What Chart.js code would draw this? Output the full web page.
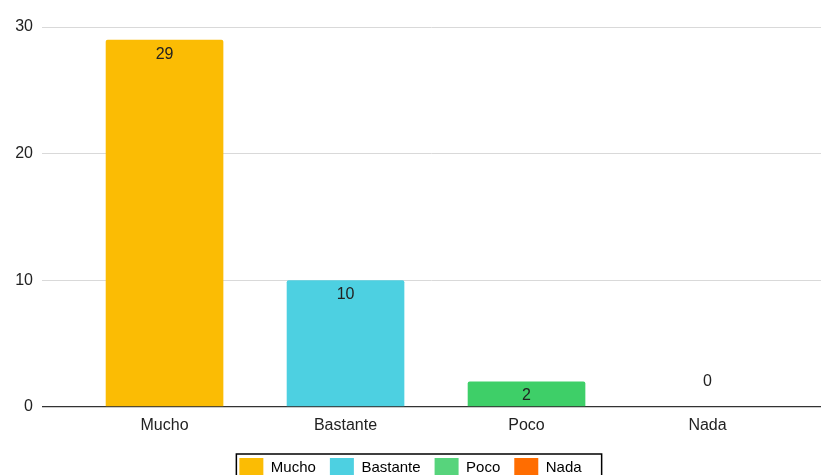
<!DOCTYPE html>
<html>
<head>
<meta charset="utf-8">
<script src="https://cdn.jsdelivr.net/npm/chart.js@4.4.0/dist/chart.umd.min.js"></script>
<style>
  html, body { margin: 0; padding: 0; background: #fff; overflow: hidden; }
  #wrap { width: 821px; height: 488px; }
</style>
</head>
<body>
<div id="wrap"><canvas id="c" width="821" height="488"></canvas></div>
<script>
const categories = ['Mucho', 'Bastante', 'Poco', 'Nada'];
const values = [29, 10, 2, 0];
const barColors = ['#fbbc04', '#4dd0e1', '#3ecf68', '#ff6d01'];
const legendColors = ['#fbbc04', '#4dd0e1', '#57d47c', '#ff6d01'];
const yTicks = [0, 10, 20, 30];

const FONT = '"Liberation Sans", Arial, Helvetica, sans-serif';

const datasets = categories.map((name, i) => ({
  label: name,
  data: [{ x: i, y: values[i] }],
  backgroundColor: barColors[i],
  borderRadius: { topLeft: 2, topRight: 2, bottomLeft: 0, bottomRight: 0 },
  borderSkipped: 'bottom',
  categoryPercentage: 1,
  barPercentage: 0.65,
  grouped: false
}));

const valueLabels = {
  id: 'valueLabels',
  afterDatasetsDraw(chart) {
    const ctx = chart.ctx;
    ctx.save();
    ctx.font = '16px ' + FONT;
    ctx.fillStyle = '#222';
    ctx.textAlign = 'center';
    ctx.textBaseline = 'middle';
    chart.data.datasets.forEach((ds, i) => {
      const meta = chart.getDatasetMeta(i);
      meta.data.forEach((bar, j) => {
        const v = ds.data[j].y;
        const y = v > 0 ? bar.y + 14.5 : bar.base - 25;
        ctx.fillText(String(v), bar.x, y);
      });
    });
    ctx.restore();
  }
};

const legendBorder = {
  id: 'legendBorder',
  afterDraw(chart) {
    const l = chart.legend;
    if (!l || !l.legendHitBoxes || !l.legendHitBoxes.length) return;
    const boxes = l.legendHitBoxes;
    const left = boxes[0].left - 3;
    const last = boxes[boxes.length - 1];
    const right = last.left + last.width + 20;
    const top = boxes[0].top - 4;
    const ctx = chart.ctx;
    ctx.save();
    ctx.strokeStyle = '#000';
    ctx.lineWidth = 1.5;
    ctx.strokeRect(left, top, right - left, 40);
    ctx.restore();
  }
};

new Chart(document.getElementById('c'), {
  type: 'bar',
  data: { datasets },
  plugins: [valueLabels, legendBorder],
  options: {
    responsive: false,
    animation: false,
    layout: { padding: { top: 27, left: 0, right: 0, bottom: 0 } },
    scales: {
      x: {
        type: 'linear',
        offset: false,
        min: -0.677,
        max: 3.627,
        grid: { display: false, drawTicks: false, offset: false },
        border: { display: false },
        afterBuildTicks(scale) {
          scale.ticks = categories.map((_, i) => ({ value: i }));
        },
        ticks: {
          autoSkip: false,
          maxRotation: 0,
          padding: 9,
          color: '#222',
          font: { family: FONT, size: 16 },
          callback: (v) => categories[v]
        }
      },
      y: {
        min: 0,
        max: 30,
        afterBuildTicks(scale) {
          scale.ticks = yTicks.map(v => ({ value: v }));
        },
        afterFit(scale) { scale.width = 42; },
        grid: {
          drawTicks: false,
          color: (c) => c.tick && c.tick.value === 0 ? '#333' : '#d9d9d9',
          lineWidth: (c) => c.tick && c.tick.value === 0 ? 1.3 : 1
        },
        border: { display: false },
        ticks: {
          padding: 9,
          color: '#222',
          font: { family: FONT, size: 16 }
        }
      }
    },
    plugins: {
      tooltip: { enabled: false },
      legend: {
        position: 'bottom',
        labels: {
          boxWidth: 24,
          boxHeight: 20,
          padding: 14,
          color: '#000',
          font: { family: FONT, size: 15 },
          generateLabels: (chart) => categories.map((name, i) => ({
            text: name,
            fillStyle: legendColors[i],
            strokeStyle: legendColors[i],
            lineWidth: 0,
            datasetIndex: i,
            hidden: false
          }))
        }
      }
    }
  }
});
</script>
</body>
</html>
